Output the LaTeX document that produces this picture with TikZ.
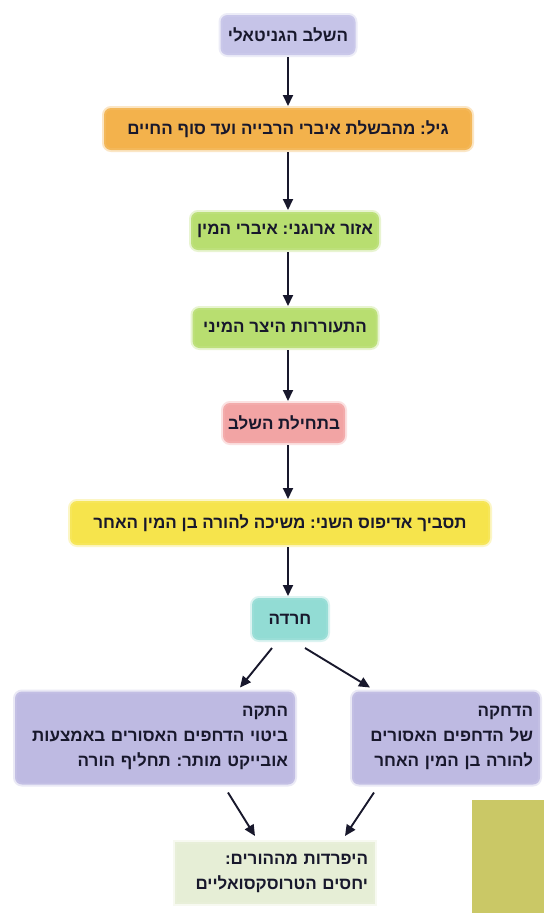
\documentclass[tikz,border=0pt]{standalone}
\usepackage{fontspec}
\usepackage{xcolor}
\usetikzlibrary{arrows.meta}
\TeXXeTstate=1
\frenchspacing
\newfontfamily\hebfont[Script=Hebrew]{Liberation Sans}
\definecolor{inkdark}{RGB}{24,24,44}
\definecolor{lavtop}{RGB}{198,196,232}
\definecolor{lavlow}{RGB}{190,186,226}
\definecolor{orangebox}{RGB}{243,178,76}
\definecolor{greenbox}{RGB}{184,222,112}
\definecolor{pinkbox}{RGB}{242,164,164}
\definecolor{yellowbox}{RGB}{246,228,76}
\definecolor{tealbox}{RGB}{146,220,212}
\definecolor{palegreen}{RGB}{230,238,214}
\definecolor{olive}{RGB}{202,200,102}
\tikzset{
  stagebox/.style={rounded corners=7pt, inner sep=4pt, text=inkdark,
    font=\hebfont\bfseries\fontsize{17}{19}\selectfont},
  halo/.style={fill=#1, draw=#1!80, line width=4pt, draw opacity=0.4},
  notebox/.style={stagebox, align=right, inner sep=7pt,
    font=\hebfont\bfseries\fontsize{17}{25}\selectfont},
  flow/.style={-{Triangle[length=11pt,width=10pt]}, line width=1.9pt, draw=inkdark},
}

\begin{document}
\begin{tikzpicture}[x=1pt, y=-1pt]
            \useasboundingbox (0, 0) rectangle (544, 913);
            \fill[white] (0, 0) rectangle (544, 913);

            \node[stagebox, halo=lavtop, minimum width=135pt, minimum height=40pt] (genital) at (288, 35) {\beginR השלב הגניטאלי\endR};
            \node[stagebox, halo=orangebox, minimum width=368pt, minimum height=42pt] (age) at (288, 129) {\beginR גיל: מהבשלת איברי הרבייה ועד סוף החיים\endR};
            \node[stagebox, halo=greenbox, minimum width=188pt, minimum height=38pt] (zone) at (285, 231) {\beginR אזור ארוגני: איברי המין\endR};
            \node[stagebox, halo=greenbox, minimum width=185pt, minimum height=40pt] (drive) at (285, 328) {\beginR התעוררות היצר המיני\endR};
            \node[stagebox, halo=pinkbox, minimum width=122pt, minimum height=40pt] (start) at (284, 423) {\beginR בתחילת השלב\endR};
            \node[stagebox, halo=yellowbox, minimum width=420pt, minimum height=44pt] (oedipus) at (280, 523) {\beginR תסביך אדיפוס השני: משיכה להורה בן המין האחר\endR};
            \node[stagebox, halo=tealbox, minimum width=76pt, minimum height=42pt] (anxiety) at (290, 619) {\beginR חרדה\endR};

            \node[notebox, halo=lavlow, text width=266pt, minimum height=93pt] (displace) at (155, 738) {\beginR התקה\endR\\ \beginR ביטוי הדחפים האסורים באמצעות\endR\\ \beginR אובייקט מותר: תחליף הורה\endR};
            \node[notebox, halo=lavlow, text width=174pt, minimum height=93pt] (repress) at (446, 738) {\beginR הדחקה\endR\\ \beginR של הדחפים האסורים\endR\\ \beginR להורה בן המין האחר\endR};
            \node[notebox, halo=palegreen, rounded corners=0pt, text width=186pt, minimum height=62pt] (separate) at (275, 873) {\beginR היפרדות מההורים:\endR\\ \beginR יחסים הטרוסקסואליים\endR};

            \fill[olive] (472, 800) rectangle (544, 913);

            \draw[flow] (genital) -- (genital |- age.north);
            \draw[flow] (age.south -| genital) -- (genital |- zone.north);
            \draw[flow] (zone.south -| genital) -- (genital |- drive.north);
            \draw[flow] (drive.south -| genital) -- (genital |- start.north);
            \draw[flow] (start.south -| genital) -- (genital |- oedipus.north);
            \draw[flow] (oedipus.south -| genital) -- (genital |- anxiety.north);
            \draw[flow] ([xshift=-18pt, yshift=-6pt]anxiety.south) -- ([xshift=85pt, yshift=2pt]displace.north);
            \draw[flow] ([xshift=15pt, yshift=-6pt]anxiety.south) -- ([xshift=-76pt, yshift=2pt]repress.north);
            \draw[flow] ([xshift=73pt, yshift=-6pt]displace.south) -- ([xshift=-20pt, yshift=4pt]separate.north);
            \draw[flow] ([xshift=-72pt, yshift=-6pt]repress.south) -- ([xshift=70pt, yshift=4pt]separate.north);
\end{tikzpicture}
\end{document}
